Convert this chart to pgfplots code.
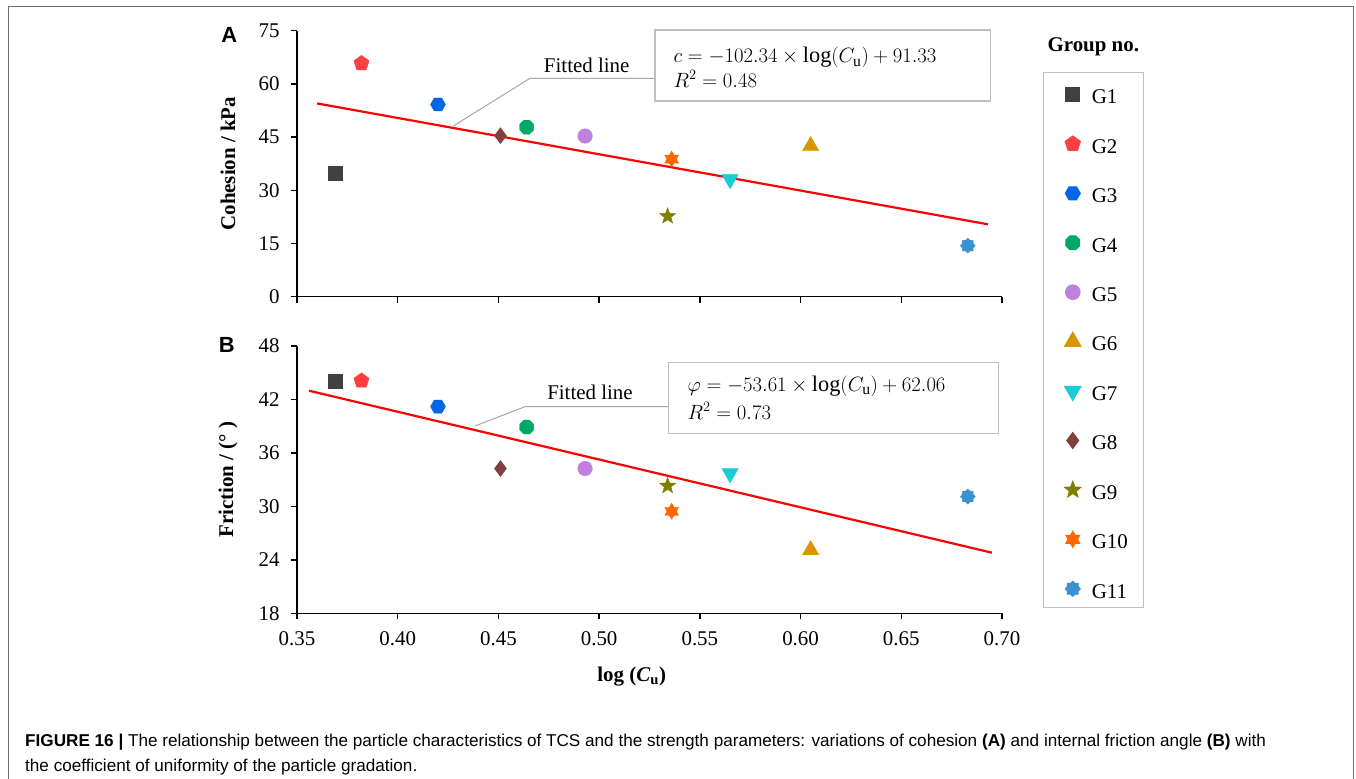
\documentclass[border=0pt]{standalone}
\usepackage{fontspec}
\setmainfont{Liberation Serif}
\newfontfamily\capfont{Liberation Sans}
\usepackage{pgfplots}
\pgfplotsset{compat=1.18}

% marker colours
\definecolor{cG1}{RGB}{64,64,64}
\definecolor{cG2}{RGB}{255,64,64}
\definecolor{cG3}{RGB}{0,102,230}
\definecolor{cG4}{RGB}{0,168,104}
\definecolor{cG5}{RGB}{192,128,224}
\definecolor{cG6}{RGB}{218,150,0}
\definecolor{cG7}{RGB}{25,205,210}
\definecolor{cG8}{RGB}{128,64,64}
\definecolor{cG9}{RGB}{128,128,0}
\definecolor{cG10}{RGB}{255,102,0}
\definecolor{cG11}{RGB}{60,146,208}
\definecolor{leader}{RGB}{166,166,166}
\definecolor{boxgray}{RGB}{191,191,191}
\definecolor{framegray}{RGB}{110,110,110}

% extra filled marks
\pgfdeclareplotmark{hexagon*}{%
  \pgfpathmoveto{\pgfqpointpolar{0}{\pgfplotmarksize}}%
  \pgfpathlineto{\pgfqpointpolar{60}{\pgfplotmarksize}}%
  \pgfpathlineto{\pgfqpointpolar{120}{\pgfplotmarksize}}%
  \pgfpathlineto{\pgfqpointpolar{180}{\pgfplotmarksize}}%
  \pgfpathlineto{\pgfqpointpolar{240}{\pgfplotmarksize}}%
  \pgfpathlineto{\pgfqpointpolar{300}{\pgfplotmarksize}}%
  \pgfpathclose\pgfusepathqfillstroke}
\pgfdeclareplotmark{octagon*}{%
  \pgfpathmoveto{\pgfqpointpolar{22.5}{\pgfplotmarksize}}%
  \pgfpathlineto{\pgfqpointpolar{67.5}{\pgfplotmarksize}}%
  \pgfpathlineto{\pgfqpointpolar{112.5}{\pgfplotmarksize}}%
  \pgfpathlineto{\pgfqpointpolar{157.5}{\pgfplotmarksize}}%
  \pgfpathlineto{\pgfqpointpolar{202.5}{\pgfplotmarksize}}%
  \pgfpathlineto{\pgfqpointpolar{247.5}{\pgfplotmarksize}}%
  \pgfpathlineto{\pgfqpointpolar{292.5}{\pgfplotmarksize}}%
  \pgfpathlineto{\pgfqpointpolar{337.5}{\pgfplotmarksize}}%
  \pgfpathclose\pgfusepathqfillstroke}
\pgfdeclareplotmark{fstar*}{%
  \pgfpathmoveto{\pgfqpointpolar{90}{\pgfplotmarksize}}%
  \pgfpathlineto{\pgfqpointpolar{126}{0.42\pgfplotmarksize}}%
  \pgfpathlineto{\pgfqpointpolar{162}{\pgfplotmarksize}}%
  \pgfpathlineto{\pgfqpointpolar{198}{0.42\pgfplotmarksize}}%
  \pgfpathlineto{\pgfqpointpolar{234}{\pgfplotmarksize}}%
  \pgfpathlineto{\pgfqpointpolar{270}{0.42\pgfplotmarksize}}%
  \pgfpathlineto{\pgfqpointpolar{306}{\pgfplotmarksize}}%
  \pgfpathlineto{\pgfqpointpolar{342}{0.42\pgfplotmarksize}}%
  \pgfpathlineto{\pgfqpointpolar{18}{\pgfplotmarksize}}%
  \pgfpathlineto{\pgfqpointpolar{54}{0.42\pgfplotmarksize}}%
  \pgfpathclose\pgfusepathqfillstroke}
\pgfdeclareplotmark{sixstar*}{%
  \pgfpathmoveto{\pgfqpointpolar{90}{\pgfplotmarksize}}%
  \pgfpathlineto{\pgfqpointpolar{120}{0.58\pgfplotmarksize}}%
  \pgfpathlineto{\pgfqpointpolar{150}{\pgfplotmarksize}}%
  \pgfpathlineto{\pgfqpointpolar{180}{0.58\pgfplotmarksize}}%
  \pgfpathlineto{\pgfqpointpolar{210}{\pgfplotmarksize}}%
  \pgfpathlineto{\pgfqpointpolar{240}{0.58\pgfplotmarksize}}%
  \pgfpathlineto{\pgfqpointpolar{270}{\pgfplotmarksize}}%
  \pgfpathlineto{\pgfqpointpolar{300}{0.58\pgfplotmarksize}}%
  \pgfpathlineto{\pgfqpointpolar{330}{\pgfplotmarksize}}%
  \pgfpathlineto{\pgfqpointpolar{0}{0.58\pgfplotmarksize}}%
  \pgfpathlineto{\pgfqpointpolar{30}{\pgfplotmarksize}}%
  \pgfpathlineto{\pgfqpointpolar{60}{0.58\pgfplotmarksize}}%
  \pgfpathclose\pgfusepathqfillstroke}
\pgfdeclareplotmark{gear*}{%
  \pgfpathmoveto{\pgfqpointpolar{0}{\pgfplotmarksize}}%
  \pgfpathlineto{\pgfqpointpolar{22.5}{0.78\pgfplotmarksize}}%
  \pgfpathlineto{\pgfqpointpolar{45}{\pgfplotmarksize}}%
  \pgfpathlineto{\pgfqpointpolar{67.5}{0.78\pgfplotmarksize}}%
  \pgfpathlineto{\pgfqpointpolar{90}{\pgfplotmarksize}}%
  \pgfpathlineto{\pgfqpointpolar{112.5}{0.78\pgfplotmarksize}}%
  \pgfpathlineto{\pgfqpointpolar{135}{\pgfplotmarksize}}%
  \pgfpathlineto{\pgfqpointpolar{157.5}{0.78\pgfplotmarksize}}%
  \pgfpathlineto{\pgfqpointpolar{180}{\pgfplotmarksize}}%
  \pgfpathlineto{\pgfqpointpolar{202.5}{0.78\pgfplotmarksize}}%
  \pgfpathlineto{\pgfqpointpolar{225}{\pgfplotmarksize}}%
  \pgfpathlineto{\pgfqpointpolar{247.5}{0.78\pgfplotmarksize}}%
  \pgfpathlineto{\pgfqpointpolar{270}{\pgfplotmarksize}}%
  \pgfpathlineto{\pgfqpointpolar{292.5}{0.78\pgfplotmarksize}}%
  \pgfpathlineto{\pgfqpointpolar{315}{\pgfplotmarksize}}%
  \pgfpathlineto{\pgfqpointpolar{337.5}{0.78\pgfplotmarksize}}%
  \pgfpathclose\pgfusepathqfillstroke}

\newcommand{\chartfont}{\fontsize{21}{25}\selectfont}
\newcommand{\eqfont}{\fontsize{22.4}{27}\selectfont}

\pgfplotsset{
  panel/.style={
    scale only axis, width=705bp,
    xmin=0.35, xmax=0.70,
    axis lines=left,
    axis line style={-, line width=1.5bp, black},
    tick align=outside, major tick length=6bp,
    tick style={line width=1.5bp, black},
    xtick={0.35,0.40,0.45,0.50,0.55,0.60,0.65,0.70},
    tick label style={font=\chartfont},
    xticklabel style={yshift=-9bp},
    yticklabel style={xshift=-8bp},
    /pgf/number format/assume math mode=true,
    clip=false,
  },
  gA/.style={only marks, mark=square*, mark size=7bp, color=cG1},
  gB/.style={only marks, mark=pentagon*, mark size=8bp, color=cG2},
  gC/.style={only marks, mark=hexagon*, mark size=7.5bp, color=cG3},
  gD/.style={only marks, mark=octagon*, mark size=7.5bp, color=cG4},
  gE/.style={only marks, mark=*, mark size=7.3bp, color=cG5},
  gF/.style={only marks, mark=triangle*, mark size=9.5bp, color=cG6},
  gG/.style={only marks, mark=triangle*, mark size=9.5bp, color=cG7, mark options={rotate=180}},
  gH/.style={only marks, mark=diamond*, mark size=8bp, color=cG8},
  gI/.style={only marks, mark=fstar*, mark size=8.5bp, color=cG9},
  gJ/.style={only marks, mark=sixstar*, mark size=8bp, color=cG10},
  gK/.style={only marks, mark=gear*, mark size=7.5bp, color=cG11},
}

\begin{document}
\begin{tikzpicture}[x=1bp, y=1bp]
\path[use as bounding box] (0bp,0bp) rectangle (1356bp,779bp);

% page frame
\draw[framegray, line width=1bp] (8.5bp,0bp) -- (8.5bp,772.5bp) -- (1353bp,772.5bp) -- (1353bp,0bp);

% ---------- cohesion ----------
\begin{axis}[panel,
  at={(297bp,482.3bp)}, anchor=south west, height=266bp,
  ymin=0, ymax=75, ytick={0,15,30,45,60,75},
  xticklabels={},
  ylabel={Cohesion / kPa},
  every axis y label/.style={at={(axis description cs:-0.0979,0.5)}, rotate=90, anchor=center, font=\chartfont\bfseries},
  legend cell align=left,
  legend image code/.code={%
    \path[draw=none, fill=none] (-13.6bp,-13bp) rectangle (10bp,13bp);
    \draw[#1] plot coordinates {(0bp,-1.7bp)};},
  legend style={at={(rel axis cs:1.0577,0.8459)}, anchor=north west,
    draw=boxgray, line width=1bp, font=\chartfont,
    inner xsep=16bp, inner ysep=7.6bp, row sep=23.43bp, column sep=9bp,
    nodes={inner sep=0pt, text height=24bp, text depth=2bp}},
]
\addplot[red, line width=2.2bp, forget plot] coordinates {(0.360,54.49) (0.693,20.41)};
\addplot[gA] coordinates {(0.369,34.8)};
\addplot[gB] coordinates {(0.382,65.8)};
\addplot[gC] coordinates {(0.420,54.2)};
\addplot[gD] coordinates {(0.464,47.8)};
\addplot[gE] coordinates {(0.493,45.3)};
\addplot[gF] coordinates {(0.605,42.5)};
\addplot[gG] coordinates {(0.565,33.1)};
\addplot[gH] coordinates {(0.451,45.4)};
\addplot[gI] coordinates {(0.534,22.7)};
\addplot[gJ] coordinates {(0.536,38.8)};
\addplot[gK] coordinates {(0.683,14.4)};
\legend{G1,G2,G3,G4,G5,G6,G7,G8,G9,G10,G11}
\end{axis}

% ---------- friction angle ----------
\begin{axis}[panel,
  at={(297bp,165.7bp)}, anchor=south west, height=267.3bp,
  ymin=18, ymax=48, ytick={18,24,30,36,42,48},
  xticklabel style={/pgf/number format/.cd, fixed, fixed zerofill, precision=2},
  ylabel={Friction / (° )},
  every axis y label/.style={at={(axis description cs:-0.0979,0.5)}, rotate=90, anchor=center, font=\chartfont\bfseries},
  xlabel={log (\textit{C}\textsubscript{u})},
  every axis x label/.style={at={(axis description cs:0.4748,-0.2372)}, anchor=center, font=\chartfont\bfseries},
]
\addplot[red, line width=2.2bp] coordinates {(0.356,42.98) (0.695,24.80)};
\addplot[gA] coordinates {(0.369,44.0)};
\addplot[gB] coordinates {(0.382,44.1)};
\addplot[gC] coordinates {(0.420,41.2)};
\addplot[gD] coordinates {(0.464,38.9)};
\addplot[gE] coordinates {(0.493,34.25)};
\addplot[gF] coordinates {(0.605,25.1)};
\addplot[gG] coordinates {(0.565,33.7)};
\addplot[gH] coordinates {(0.451,34.25)};
\addplot[gI] coordinates {(0.534,32.3)};
\addplot[gJ] coordinates {(0.536,29.45)};
\addplot[gK] coordinates {(0.683,31.1)};
\end{axis}

% fitted-line call-outs
\draw[leader, line width=1bp] (453.3bp,653bp) -- (530bp,700.7bp) -- (655bp,700.7bp);
\node[font=\chartfont, anchor=base] at (586.7bp,706.3bp) {Fitted line};
\draw[boxgray, line width=1.2bp] (655bp,678bp) rectangle (990.7bp,749bp);
\node[font=\eqfont, anchor=base west, inner sep=0pt] at (673.3bp,716bp)
  {$c = -102.34 \times \log(C_{\mathrm{u}}) + 91.33$};
\node[font=\eqfont, anchor=base west, inner sep=0pt] at (673.3bp,691.5bp)
  {$R^2 = 0.48$};

\draw[leader, line width=1bp] (475bp,353bp) -- (525bp,372.3bp) -- (668.3bp,372.3bp);
\node[font=\chartfont, anchor=base] at (590bp,379bp) {Fitted line};
\draw[boxgray, line width=1.2bp] (668.3bp,345.7bp) rectangle (998.3bp,416.7bp);
\node[font=\eqfont, anchor=base west, inner sep=0pt] at (687.3bp,387.6bp)
  {$\varphi = -53.61 \times \log(C_{\mathrm{u}}) + 62.06$};
\node[font=\eqfont, anchor=base west, inner sep=0pt] at (687.3bp,359.5bp)
  {$R^2 = 0.73$};

% panel letters and legend title
\node[font=\capfont\fontsize{22}{26}\selectfont\bfseries] at (229.3bp,744bp) {A};
\node[font=\capfont\fontsize{22}{26}\selectfont\bfseries] at (226.7bp,434bp) {B};
\node[font=\chartfont\bfseries] at (1093.3bp,732.3bp) {Group no.};

% caption
\node[anchor=base west, inner sep=0pt, font=\capfont\fontsize{17.2}{20}\selectfont] at (25bp,33bp)
  {\textbf{FIGURE 16 |} The relationship between the particle characteristics of TCS and the strength parameters: variations of cohesion \textbf{(A)} and internal friction angle \textbf{(B)} with};
\node[anchor=base west, inner sep=0pt, font=\capfont\fontsize{17.2}{20}\selectfont] at (25bp,8bp)
  {the coefficient of uniformity of the particle gradation.};
\end{tikzpicture}
\end{document}
